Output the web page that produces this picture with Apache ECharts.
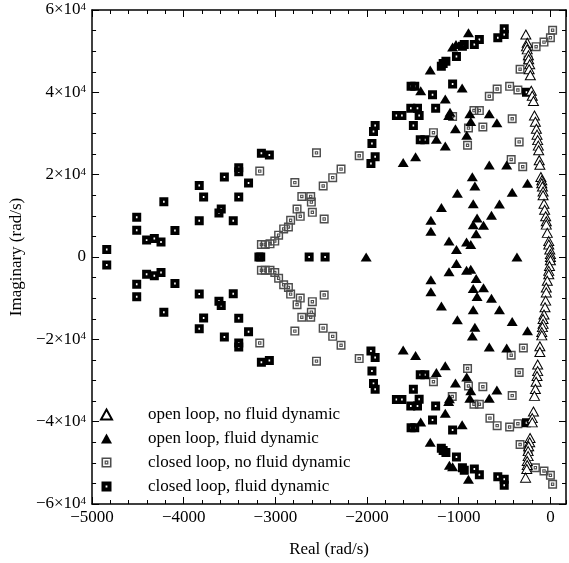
<!DOCTYPE html>
<html><head><meta charset="utf-8">
<script src="https://cdn.jsdelivr.net/npm/echarts@6/dist/echarts.min.js"></script>
<style>html,body{margin:0;padding:0;background:#fff}#c{width:569px;height:563px}</style>
</head><body><div id="c"></div>
<script>
// ---------- data ----------
const seriesNames = ['open loop, no fluid dynamic','open loop, fluid dynamic','closed loop, no fluid dynamic','closed loop, fluid dynamic'];
const xTicks = [-5000,-4000,-3000,-2000,-1000,0];
const yTicks = [-60000,-40000,-20000,0,20000,40000,60000];

// open loop, no fluid dynamic  [Re, Im]
const openNoFluid = [
 [-268,54040],[-253,52060],[-261,51160],[-253,50440],[-240,49000],[-237,48030],[-226,46830],[-232,45620],[-219,44170],
 [-209,40390],[-198,39190],[-185,37910],[-174,34370],[-164,32850],[-153,31160],[-146,29720],[-139,28390],[-132,27060],[-128,25930],[-122,23520],[-115,22410],
 [-104,19420],[-94,18630],[-94,17900],[-87,17110],[-80,15910],[-80,15010],[-70,12920],[-63,11470],[-52,9880],[-45,8680],[-45,7860],[-34,5860],[-18,3860],[-18,3040],[-7,1830],
 [0,700],[0,0],[0,-800],
 [-10,-2170],[-18,-3370],[-18,-4190],[-34,-5780],[-45,-7400],[-45,-8600],[-52,-10600],[-59,-12220],[-70,-13980],[-80,-15040],[-80,-16240],[-87,-17040],[-94,-18240],[-94,-19040],
 [-115,-21690],[-115,-23060],[-139,-26120],[-139,-27720],[-146,-28920],[-156,-30290],[-164,-32050],[-174,-33740],[-185,-37520],[-198,-39140],[-198,-40170],
 [-222,-43960],[-226,-45000],[-237,-45960],[-243,-47160],[-243,-48370],[-253,-49570],[-253,-50540],[-258,-51500],[-271,-53600]
];
// open loop, fluid dynamic
const openFluid = [
 [-894,54470],[-1067,51000],[-1030,51600],[-1311,45450],[-963,41040],[-1415,40390],[-1147,38390],[-1095,35190],[-1110,34380],[-879,34780],[-667,34780],
 [-869,32920],[-584,32600],[-1036,31160],[-913,29550],[-1244,28580],[-1147,26990],[-1471,24340],[-1606,22970],[-667,22320],[-477,22320],[-852,19520],
 [-824,17260],[-250,17910],[-1015,15500],[-417,15740],[-842,12920],[-556,12850],[-1189,12050],[-643,10120],[-800,9470],[-1304,8920],[-842,7860],[-730,7710],
 [-1304,6270],[-810,5620],[-1106,3860],[-915,3620],[-869,3040],[-1025,1830],
 [-2010,0],[-365,0],
 [-1025,-1550],[-869,-2970],[-915,-3210],[-1106,-3610],[-810,-5220],[-1304,-5540],[-730,-7470],[-842,-7640],[-1304,-8430],[-800,-9570],[-643,-10050],
 [-1189,-11880],[-842,-12840],[-556,-12840],[-1015,-15250],[-417,-15660],[-824,-17040],[-250,-17910],[-852,-19200],[-667,-21860],[-477,-22100],
 [-1606,-22580],[-1471,-23930],[-1147,-26440],[-1244,-28030],[-913,-29160],[-1036,-30600],[-584,-32290],[-869,-32460],[-879,-34320],[-667,-34320],
 [-1102,-34460],[-1110,-35100],[-1147,-37930],[-1415,-40100],[-963,-40730],[-1311,-45000],[-1102,-50600],[-1067,-50950],[-894,-53980]
];
// closed loop, no fluid dynamic
const closedNoFluid = [
 [-3171,20870],[-2552,25300],[-2788,18075],[-2479,17260],[-2712,14700],[-2615,14700],[-2608,13330],[-2597,10850],[-2764,11640],[-2729,9880],[-2468,9230],
 [-2834,8920],[-2858,7300],[-2910,6820],[-2965,5300],[-3007,3860],[-3059,3200],[-3111,3040],[-3153,3040],[-2284,21350],[-2375,19280],[-2086,24580],
 [-1276,30200],[-1067,34130],[-834,35570],[-775,35570],[-894,31330],[-737,31570],[-904,27140],[-667,39040],[-581,40800],[-445,41450],[-355,40560],
 [-417,33570],[-341,27960],[-428,23690],[-302,21930],[-331,45620],[-243,47860],[-156,51090],[-70,52200],[0,53260],[24,55090],
 [-3171,-20890],[-2552,-25300],[-2788,-18000],[-2479,-17280],[-2712,-14630],[-2615,-14630],[-2608,-13420],[-2597,-10850],[-2764,-11570],[-2729,-9980],[-2468,-9250],
 [-2834,-9010],[-2858,-7400],[-2910,-6750],[-2965,-5160],[-3007,-3780],[-3059,-3230],[-3111,-3230],[-3153,-3230],[-2284,-21450],[-2375,-19280],[-2086,-24680],
 [-1276,-30290],[-1071,-33900],[-834,-35760],[-775,-35760],[-894,-31330],[-737,-31500],[-904,-27090],[-660,-39140],[-581,-40970],[-445,-41300],[-355,-40490],
 [-417,-33670],[-341,-28050],[-428,-23860],[-295,-22100],[-331,-45550],[-243,-47160],[-164,-51190],[-70,-51980],[0,-53020],[24,-55190]
];
// closed loop, fluid dynamic
const closedFluid = [
 [-4840,1830],[-4513,9640],[-4513,6510],[-4405,4100],[-4321,4480],[-4248,3620],[-4217,13400],[-4096,6410],[-3831,17350],[-3831,8820],[-3783,14600],
 [-3616,10680],[-3591,11640],[-3557,19420],[-3460,8820],[-3400,21690],[-3400,20730],[-3400,14600],[-3293,17980],[-3153,25230],[-3066,24750],
 [-504,55430],[-504,54060],[-574,53260],[-775,52850],[-830,51640],[-940,51640],[-960,51200],[-1025,48680],[-1140,47550],[-1190,46350],[-1170,47000],
 [-1067,42000],[-1520,41450],[-1480,41450],[-1286,39430],[-1523,36150],[-1450,36150],[-1432,34370],[-1252,36150],[-1680,34370],[-1620,34370],
 [-1495,31960],[-1420,28500],[-1370,28500],[-1912,31960],[-1930,30500],[-1947,27550],[-1912,24340],[-1958,22730],[-261,40000],
 [-3180,0],[-3160,0],[-2632,0],[-2458,0],
 [-4840,-1930],[-4513,-9640],[-4513,-6600],[-4405,-4190],[-4321,-4580],[-4248,-3780],[-4217,-13420],[-4096,-6430],[-3831,-17450],[-3831,-9010],[-3783,-14800],
 [-3616,-10770],[-3591,-11800],[-3557,-19450],[-3460,-8920],[-3400,-21860],[-3400,-20900],[-3400,-14870],[-3293,-18150],[-3153,-25550],[-3066,-25140],
 [-504,-55430],[-504,-53980],[-574,-53360],[-775,-52870],[-830,-51500],[-940,-51820],[-960,-51200],[-1025,-48600],[-1140,-47480],[-1190,-46440],[-1170,-47000],
 [-1067,-42030],[-1520,-41450],[-1480,-41450],[-1286,-39620],[-1523,-36220],[-1450,-36220],[-1432,-34540],[-1252,-36220],[-1680,-34630],[-1620,-34630],
 [-1495,-32130],[-1420,-28600],[-1370,-28600],[-1912,-32150],[-1930,-30700],[-1947,-27720],[-1912,-24440],[-1958,-22820],[-261,-40250]
];

// ---------- chart ----------
const FONT = 'Liberation Serif';
const chart = echarts.init(document.getElementById('c'), null, {renderer:'canvas'});
const xMin = xTicks[0], xMax = 170, yMin = yTicks[0], yMax = yTicks[yTicks.length-1];
const minus = v => (v < 0 ? '\u2212' + Math.abs(v) : String(v));
const lineStyle = {color:'#000', width:1.5};
function xAx(pos, interval, tickLen, showLine, withLabel) {
  const a = {
    type:'value', min:xMin, max:xMax, interval:interval, position:pos,
    splitLine:{show:false},
    axisLine:{show:showLine, onZero:false, lineStyle:lineStyle},
    axisTick:{show:true, inside:true, length:tickLen, lineStyle:{color:'#000', width:1}},
    axisLabel:{show:false}
  };
  if (withLabel) {
    a.axisLabel = {show:true, showMaxLabel:false, margin:5, fontFamily:FONT, fontSize:17, color:'#000', formatter:minus};
    a.name = 'Real (rad/s)'; a.nameLocation = 'middle'; a.nameGap = 37;
    a.nameTextStyle = {fontFamily:FONT, fontSize:17, color:'#000'};
  }
  return a;
}
function yAx(pos, withLabel) {
  const a = {
    type:'value', min:yMin, max:yMax, interval:20000, position:pos,
    splitLine:{show:false},
    axisLine:{show:true, onZero:false, lineStyle:lineStyle},
    axisTick:{show:true, inside:true, length:7, lineStyle:{color:'#000', width:1}},
    minorTick:{show:true, splitNumber:4, length:4, lineStyle:{color:'#000', width:1}},
    axisLabel:{show:false}
  };
  if (withLabel) {
    a.axisLabel = {show:true, margin:6, fontFamily:FONT, fontSize:17, color:'#000',
      formatter: v => v === 0 ? '0' : (v < 0 ? '\u2212' : '') + Math.round(Math.abs(v)/1e4) + '\u00d710{s|4}',
      rich:{s:{fontFamily:FONT, fontSize:11, color:'#000', verticalAlign:'top'}}};
    a.name = 'Imaginary (rad/s)'; a.nameLocation = 'middle'; a.nameGap = 43;
    a.nameTextStyle = {fontFamily:FONT, fontSize:17, color:'#000'};
  }
  return a;
}
const symDoubleSquare = 'path://M0 0L10 0L10 10L0 10Z M1.6 1.6L1.6 8.4L8.4 8.4L8.4 1.6Z M3.1 3.1L6.9 3.1L6.9 6.9L3.1 6.9Z M4.3 4.3L4.3 5.7L5.7 5.7L5.7 4.3Z';
const symDotSquare = 'path://M0 0L10 0L10 10L0 10Z M4.1 3.9L4.1 6.1L5.9 6.1L5.9 3.9Z';

chart.setOption({
  animation:false,
  backgroundColor:'#fff',
  grid:{left:70, right:3, top:10, bottom:55, containLabel:false},
  xAxis:[xAx('bottom',1000,7,true,true), xAx('top',1000,7,true,false), xAx('bottom',200,4,false,false), xAx('top',200,4,false,false)],
  yAxis:[yAx('left',true), yAx('right',false)],
  legend:{
    orient:'vertical', left:95, top:401, padding:5, itemWidth:11, itemHeight:10, itemGap:7,
    data:seriesNames, selectedMode:false,
    textStyle:{fontFamily:FONT, fontSize:17, color:'#000', padding:[0,0,0,31]}
  },
  series:[
    {name:seriesNames[2], type:'scatter', data:closedNoFluid, symbol:symDoubleSquare, symbolKeepAspect:true, symbolSize:9,
     itemStyle:{color:'#4d4d4d', opacity:1}, silent:true},
    {name:seriesNames[3], type:'scatter', data:closedFluid, symbol:symDotSquare, symbolKeepAspect:true, symbolSize:9,
     itemStyle:{color:'#000', opacity:1}, silent:true},
    {name:seriesNames[1], type:'scatter', data:openFluid, symbol:'triangle', symbolSize:[11,9],
     itemStyle:{color:'#000', opacity:1}, silent:true},
    {name:seriesNames[0], type:'scatter', data:openNoFluid, symbol:'triangle', symbolSize:[10,9],
     itemStyle:{color:'#fff', borderColor:'#000', borderWidth:1, opacity:1}, silent:true}
  ]
});
</script></body></html>
